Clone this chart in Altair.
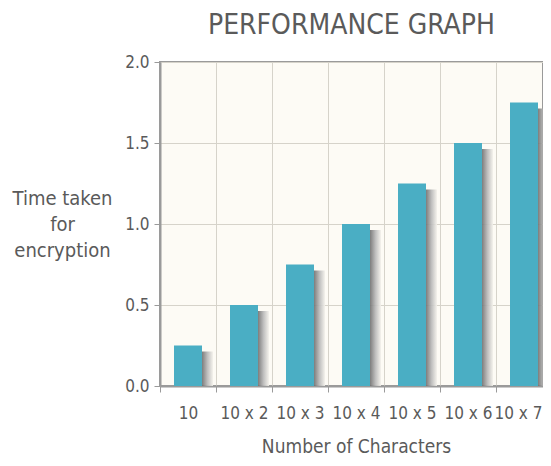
import altair as alt
import pandas as pd

categories = ["10", "10 x 2", "10 x 3", "10 x 4", "10 x 5", "10 x 6", "10 x 7"]
times = [0.25, 0.5, 0.75, 1.0, 1.25, 1.5, 1.75]
y_ticks = [0.0, 0.5, 1.0, 1.5, 2.0]

df = pd.DataFrame({"chars": categories, "time": times})

TEXT = "#5a5a5a"
AXIS = "#9a9a9a"
FONT = "DejaVu Sans Condensed"

x_enc = alt.X(
    "chars:N",
    sort=categories,
    scale=alt.Scale(paddingInner=0, paddingOuter=0, range=[0, 392]),
    axis=alt.Axis(
        title="Number of Characters",
        labelAngle=0,
        tickBand="extent",
        grid=True,
        gridColor="#d6d3ca",
        gridWidth=1,
        domainColor=AXIS,
        domainWidth=2,
        tickColor=AXIS,
        tickWidth=1,
        tickSize=6,
        labelPadding=13,
        labelFont=FONT,
        labelFontSize=17,
        labelColor=TEXT,
        labelOffset={"condition": {"test": "datum.value == '10 x 7'", "value": -6}, "value": 0},
        titleFont=FONT,
        titleFontSize=19,
        titleFontWeight="normal",
        titleColor=TEXT,
        titlePadding=16,
    ),
)
y_enc = alt.Y(
    "time:Q",
    scale=alt.Scale(domain=[0, 2]),
    axis=alt.Axis(
        title=["Time taken", "for", "encryption"],
        values=y_ticks,
        format=".1f",
        grid=True,
        gridColor="#d6d3ca",
        domainColor=AXIS,
        domainWidth=2,
        tickColor=AXIS,
        tickSize=6,
        labelPadding=5,
        labelFont=FONT,
        labelFontSize=17,
        labelColor=TEXT,
        titleAngle=0,
        titleAlign="center",
        titleBaseline="top",
        titleX=-98,
        titleY=126,
        titleLineHeight=26,
        titleFont=FONT,
        titleFontSize=20,
        titleFontWeight="normal",
        titleColor=TEXT,
    ),
)

shadow_grad = alt.LinearGradient(
    gradient="linear",
    stops=[
        alt.GradientStop(color="#6f6f6f", offset=0),
        alt.GradientStop(color="#b8b8b8", offset=0.5),
        alt.GradientStop(color="#f4f2ec", offset=1),
    ],
    x1=0, x2=1, y1=0, y2=0,
)

shadow = alt.Chart(df).mark_bar(
    size=11, xOffset=19.5, yOffset=6, color=shadow_grad, clip=True, opacity=0.9
).encode(x=x_enc, y=y_enc)

bars = alt.Chart(df).mark_bar(size=28, color="#4aaec4").encode(x=x_enc, y=y_enc)

chart = (
    alt.layer(shadow, bars)
    .properties(
        width=383,
        height=324,
        autosize=alt.AutoSizeParams(type="none"),
        padding={"left": 152, "top": 54, "right": 0, "bottom": 72},
        title=alt.TitleParams(
            "PERFORMANCE GRAPH",
            font=FONT,
            fontSize=28,
            fontWeight="normal",
            color=TEXT,
            anchor="middle",
            offset=13,
        ),
    )
    .configure_view(fill="#fdfbf5", stroke=AXIS, strokeWidth=2)
)

chart.save("out.html", embed_options={"renderer": "svg", "actions": False})
